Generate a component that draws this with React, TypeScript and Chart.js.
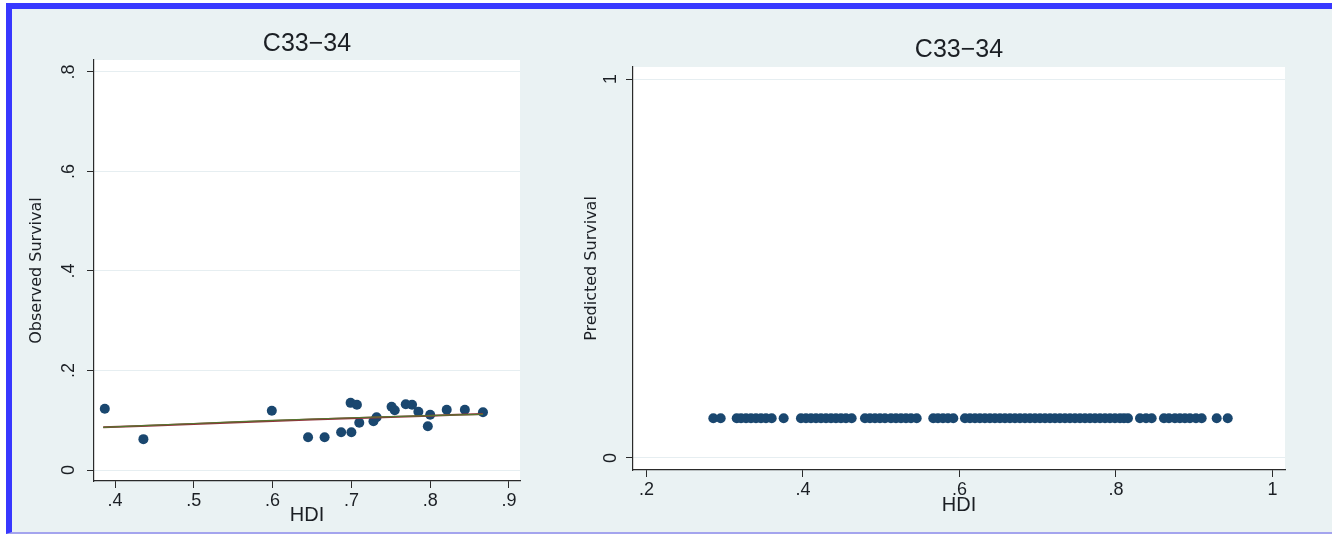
import React, { useEffect, useRef } from "react";
import { Chart, registerables } from "chart.js";

Chart.register(...registerables);

// ---------- data ----------
const TITLE_LEFT = "C33−34";
const TITLE_RIGHT = "C33−34";
const X_TITLE = "HDI";
const Y_TITLE_LEFT = "Observed Survival";
const Y_TITLE_RIGHT = "Predicted Survival";

const OBS_HDI = [
  0.387, 0.436, 0.599, 0.645, 0.666, 0.687, 0.700, 0.699, 0.707, 0.710, 0.728,
  0.732, 0.751, 0.755, 0.769, 0.777, 0.785, 0.797, 0.800, 0.821, 0.844, 0.867,
];
const OBS_SURV = [
  0.123, 0.062, 0.119, 0.066, 0.066, 0.076, 0.076, 0.135, 0.131, 0.095, 0.098,
  0.106, 0.127, 0.120, 0.132, 0.131, 0.117, 0.088, 0.111, 0.121, 0.121, 0.116,
];

const FIT_HDI = [0.385, 0.5, 0.6, 0.7, 0.8, 0.867];
const FIT_LINEAR = [0.0857, 0.0925, 0.0985, 0.1040, 0.1092, 0.1124];
const FIT_CURVE = [0.0858, 0.0935, 0.0998, 0.1050, 0.1093, 0.1120];

const PRED_HDI = [
  0.2854, 0.2948,
  0.3153, 0.3208, 0.3272, 0.3335, 0.3399, 0.3463, 0.3527, 0.3600,
  0.3753,
  0.3974, 0.4038, 0.4102, 0.4166, 0.4230, 0.4294, 0.4358, 0.4421, 0.4485, 0.4549, 0.4622,
  0.4792, 0.4856, 0.4920, 0.4984, 0.5048, 0.5124, 0.5188, 0.5252, 0.5316, 0.5380, 0.5453,
  0.5665, 0.5725, 0.5789, 0.5853, 0.5921,
  0.6070, 0.6134, 0.6198, 0.6261, 0.6325, 0.6389, 0.6453, 0.6517, 0.6581, 0.6645,
  0.6709, 0.6773, 0.6837, 0.6901, 0.6965, 0.7029, 0.7093, 0.7157, 0.7220, 0.7284,
  0.7348, 0.7412, 0.7476, 0.7540, 0.7604, 0.7668, 0.7732, 0.7796, 0.7860, 0.7923,
  0.7987, 0.8051, 0.8102, 0.8153,
  0.8307, 0.8384, 0.8456,
  0.8613, 0.8677, 0.8753, 0.8817, 0.8881, 0.8945, 0.9022, 0.9095,
  0.9287, 0.9428,
];
const PRED_SURV = [
  0.105, 0.105,
  0.105, 0.105, 0.105, 0.105, 0.105, 0.105, 0.105, 0.105,
  0.105,
  0.105, 0.105, 0.105, 0.105, 0.105, 0.105, 0.105, 0.105, 0.105, 0.105, 0.105,
  0.105, 0.105, 0.105, 0.105, 0.105, 0.105, 0.105, 0.105, 0.105, 0.105, 0.105,
  0.105, 0.105, 0.105, 0.105, 0.105,
  0.105, 0.105, 0.105, 0.105, 0.105, 0.105, 0.105, 0.105, 0.105, 0.105,
  0.105, 0.105, 0.105, 0.105, 0.105, 0.105, 0.105, 0.105, 0.105, 0.105,
  0.105, 0.105, 0.105, 0.105, 0.105, 0.105, 0.105, 0.105, 0.105, 0.105,
  0.105, 0.105, 0.105, 0.105,
  0.105, 0.105, 0.105,
  0.105, 0.105, 0.105, 0.105, 0.105, 0.105, 0.105, 0.105,
  0.105, 0.105,
];

const LEFT_X_TICKS = [0.4, 0.5, 0.6, 0.7, 0.8, 0.9];
const LEFT_Y_TICKS = [0, 0.2, 0.4, 0.6, 0.8];
const RIGHT_X_TICKS = [0.2, 0.4, 0.6, 0.8, 1];
const RIGHT_Y_TICKS = [0, 1];

// ---------- styles ----------
const NAVY = "#1a476f";
const MAROON = "#90353b";
const GREEN = "#55752f";
const TEXT = "#1b1f24";
const GRID = "#e6eef1";
const AXIS = "#2a2a2a";
const NARROW = '"Liberation Sans Narrow", "Arial Narrow", "Liberation Sans", Arial, sans-serif';
const SANS = '"Liberation Sans", Arial, sans-serif';
const TITLE_FONT = '"DejaVu Sans", Verdana, sans-serif';

const fmt = (v: number) => {
  const r = Math.round(v * 100) / 100;
  if (Number.isInteger(r)) return String(r);
  return String(r).replace(/^0\./, ".");
};

const stataPlugin = {
  id: "stata",
  beforeDraw(chart: any, _a: any, opts: any) {
    const { ctx, chartArea: a } = chart;
    ctx.save();
    ctx.fillStyle = "#ffffff";
    ctx.fillRect(a.left, a.top, a.right - a.left, a.bottom - a.top);
    ctx.restore();
  },
  afterDraw(chart: any, _a: any, opts: any) {
    const { ctx, chartArea: a } = chart;
    ctx.save();
    ctx.fillStyle = TEXT;
    ctx.font = `25px ${SANS}`;
    ctx.textAlign = "center";
    ctx.textBaseline = "alphabetic";
    ctx.fillText(opts.title, (a.left + a.right) / 2, opts.titleY);
    const ys = chart.scales.y;
    ctx.font = `18px ${NARROW}`;
    ctx.textBaseline = "middle";
    for (const t of ys.ticks) {
      const py = ys.getPixelForValue(t.value);
      ctx.save();
      ctx.translate(opts.yLabelX, py);
      ctx.rotate(-Math.PI / 2);
      ctx.fillText(fmt(t.value), 0, 0);
      ctx.restore();
    }
    ctx.restore();
  },
};

type Cfg = {
  title: string;
  titleY: number;
  yLabelX: number;
  yTitle: string;
  xMin: number;
  xMax: number;
  yMin: number;
  yMax: number;
  xTicks: number[];
  yTicks: number[];
  yWidth: number;
  xHeight: number;
  padding: { left: number; right: number; top: number; bottom: number };
  datasets: any[];
};

function makeConfig(c: Cfg): any {
  return {
    type: "scatter",
    data: { datasets: c.datasets },
    plugins: [stataPlugin],
    options: {
      responsive: false,
      animation: false,
      devicePixelRatio: 1,
      layout: { padding: c.padding },
      plugins: {
        legend: { display: false },
        tooltip: { enabled: false },
        stata: { title: c.title, titleY: c.titleY, yLabelX: c.yLabelX },
      },
      scales: {
        x: {
          type: "linear",
          min: c.xMin,
          max: c.xMax,
          afterBuildTicks: (s: any) => {
            s.ticks = c.xTicks.map((v) => ({ value: v }));
          },
          afterFit: (s: any) => {
            s.height = c.xHeight;
          },
          grid: {
            drawOnChartArea: false,
            drawTicks: true,
            tickLength: 7,
            tickColor: AXIS,
            tickWidth: 1,
          },
          border: { display: true, color: AXIS, width: 1.2 },
          ticks: {
            callback: (v: number) => fmt(v),
            font: { family: NARROW, size: 18 },
            color: TEXT,
            padding: 2,
            maxRotation: 0,
            autoSkip: false,
          },
          title: {
            display: true,
            text: X_TITLE,
            font: { family: NARROW, size: 20 },
            color: TEXT,
            padding: 0,
          },
        },
        y: {
          type: "linear",
          min: c.yMin,
          max: c.yMax,
          afterBuildTicks: (s: any) => {
            s.ticks = c.yTicks.map((v) => ({ value: v }));
          },
          afterFit: (s: any) => {
            s.width = c.yWidth;
          },
          grid: {
            color: GRID,
            lineWidth: 1,
            drawTicks: true,
            tickLength: 7,
            tickColor: AXIS,
            tickWidth: 1,
          },
          border: { display: true, color: AXIS, width: 1.2 },
          ticks: { display: false },
          title: {
            display: true,
            text: c.yTitle,
            font: { family: TITLE_FONT, size: 16 },
            color: TEXT,
            padding: 0,
          },
        },
      },
    },
  };
}

function ChartCanvas({ cfg, width, height, left }: { cfg: Cfg; width: number; height: number; left: number }) {
  const ref = useRef<HTMLCanvasElement | null>(null);
  useEffect(() => {
    if (!ref.current) return;
    const chart = new Chart(ref.current, makeConfig(cfg));
    return () => chart.destroy();
  }, []);
  return (
    <canvas
      ref={ref}
      width={width}
      height={height}
      style={{ position: "absolute", left, top: 0, width, height, display: "block" }}
    />
  );
}

export default function App() {
  const leftCfg: Cfg = {
    title: TITLE_LEFT,
    titleY: 50.5,
    yLabelX: 69,
    yTitle: Y_TITLE_LEFT,
    xMin: 0.3733,
    xMax: 0.914,
    yMin: -0.0221,
    yMax: 0.8241,
    xTicks: LEFT_X_TICKS,
    yTicks: LEFT_Y_TICKS,
    yWidth: 67,
    xHeight: 46,
    padding: { left: 27, right: 40, top: 60, bottom: 7 },
    datasets: [
      {
        label: "fit2",
        data: FIT_HDI.map((x, i) => ({ x, y: FIT_CURVE[i] })),
        showLine: true,
        borderColor: GREEN,
        borderWidth: 1.2,
        pointRadius: 0,
        tension: 0.4,
      },
      {
        label: "fit1",
        data: FIT_HDI.map((x, i) => ({ x, y: FIT_LINEAR[i] })),
        showLine: true,
        borderColor: MAROON,
        borderWidth: 2,
        pointRadius: 0,
        tension: 0.4,
      },
      {
        label: "observed",
        data: OBS_HDI.map((x, i) => ({ x, y: OBS_SURV[i] })),
        backgroundColor: NAVY,
        borderWidth: 0,
        pointRadius: 5,
      },
    ],
  };
  const rightCfg: Cfg = {
    title: TITLE_RIGHT,
    titleY: 56.5,
    yLabelX: 51.5,
    yTitle: Y_TITLE_RIGHT,
    xMin: 0.18275,
    xMax: 1.016,
    yMin: -0.0317,
    yMax: 1.0317,
    xTicks: RIGHT_X_TICKS,
    yTicks: RIGHT_Y_TICKS,
    yWidth: 51,
    xHeight: 47,
    padding: { left: 22, right: 47, top: 67, bottom: 17 },
    datasets: [
      {
        label: "predicted",
        data: PRED_HDI.map((x, i) => ({ x, y: PRED_SURV[i] })),
        backgroundColor: NAVY,
        borderWidth: 0,
        pointRadius: 5,
      },
    ],
  };
  return (
    <div style={{ position: "fixed", left: 0, top: 0, width: 1332, height: 534, background: "#ffffff", overflow: "hidden" }}>
      <div
        style={{
          position: "absolute",
          left: 6,
          top: 3,
          width: 1326,
          height: 531,
          boxSizing: "border-box",
          background: "#eaf2f3",
          borderTop: "6px solid #3838ff",
          borderLeft: "6px solid #3838ff",
          borderBottom: "2px solid #a4a4ee",
        }}
      />
      <ChartCanvas cfg={leftCfg} width={560} height={534} left={0} />
      <ChartCanvas cfg={rightCfg} width={772} height={534} left={560} />
    </div>
  );
}
